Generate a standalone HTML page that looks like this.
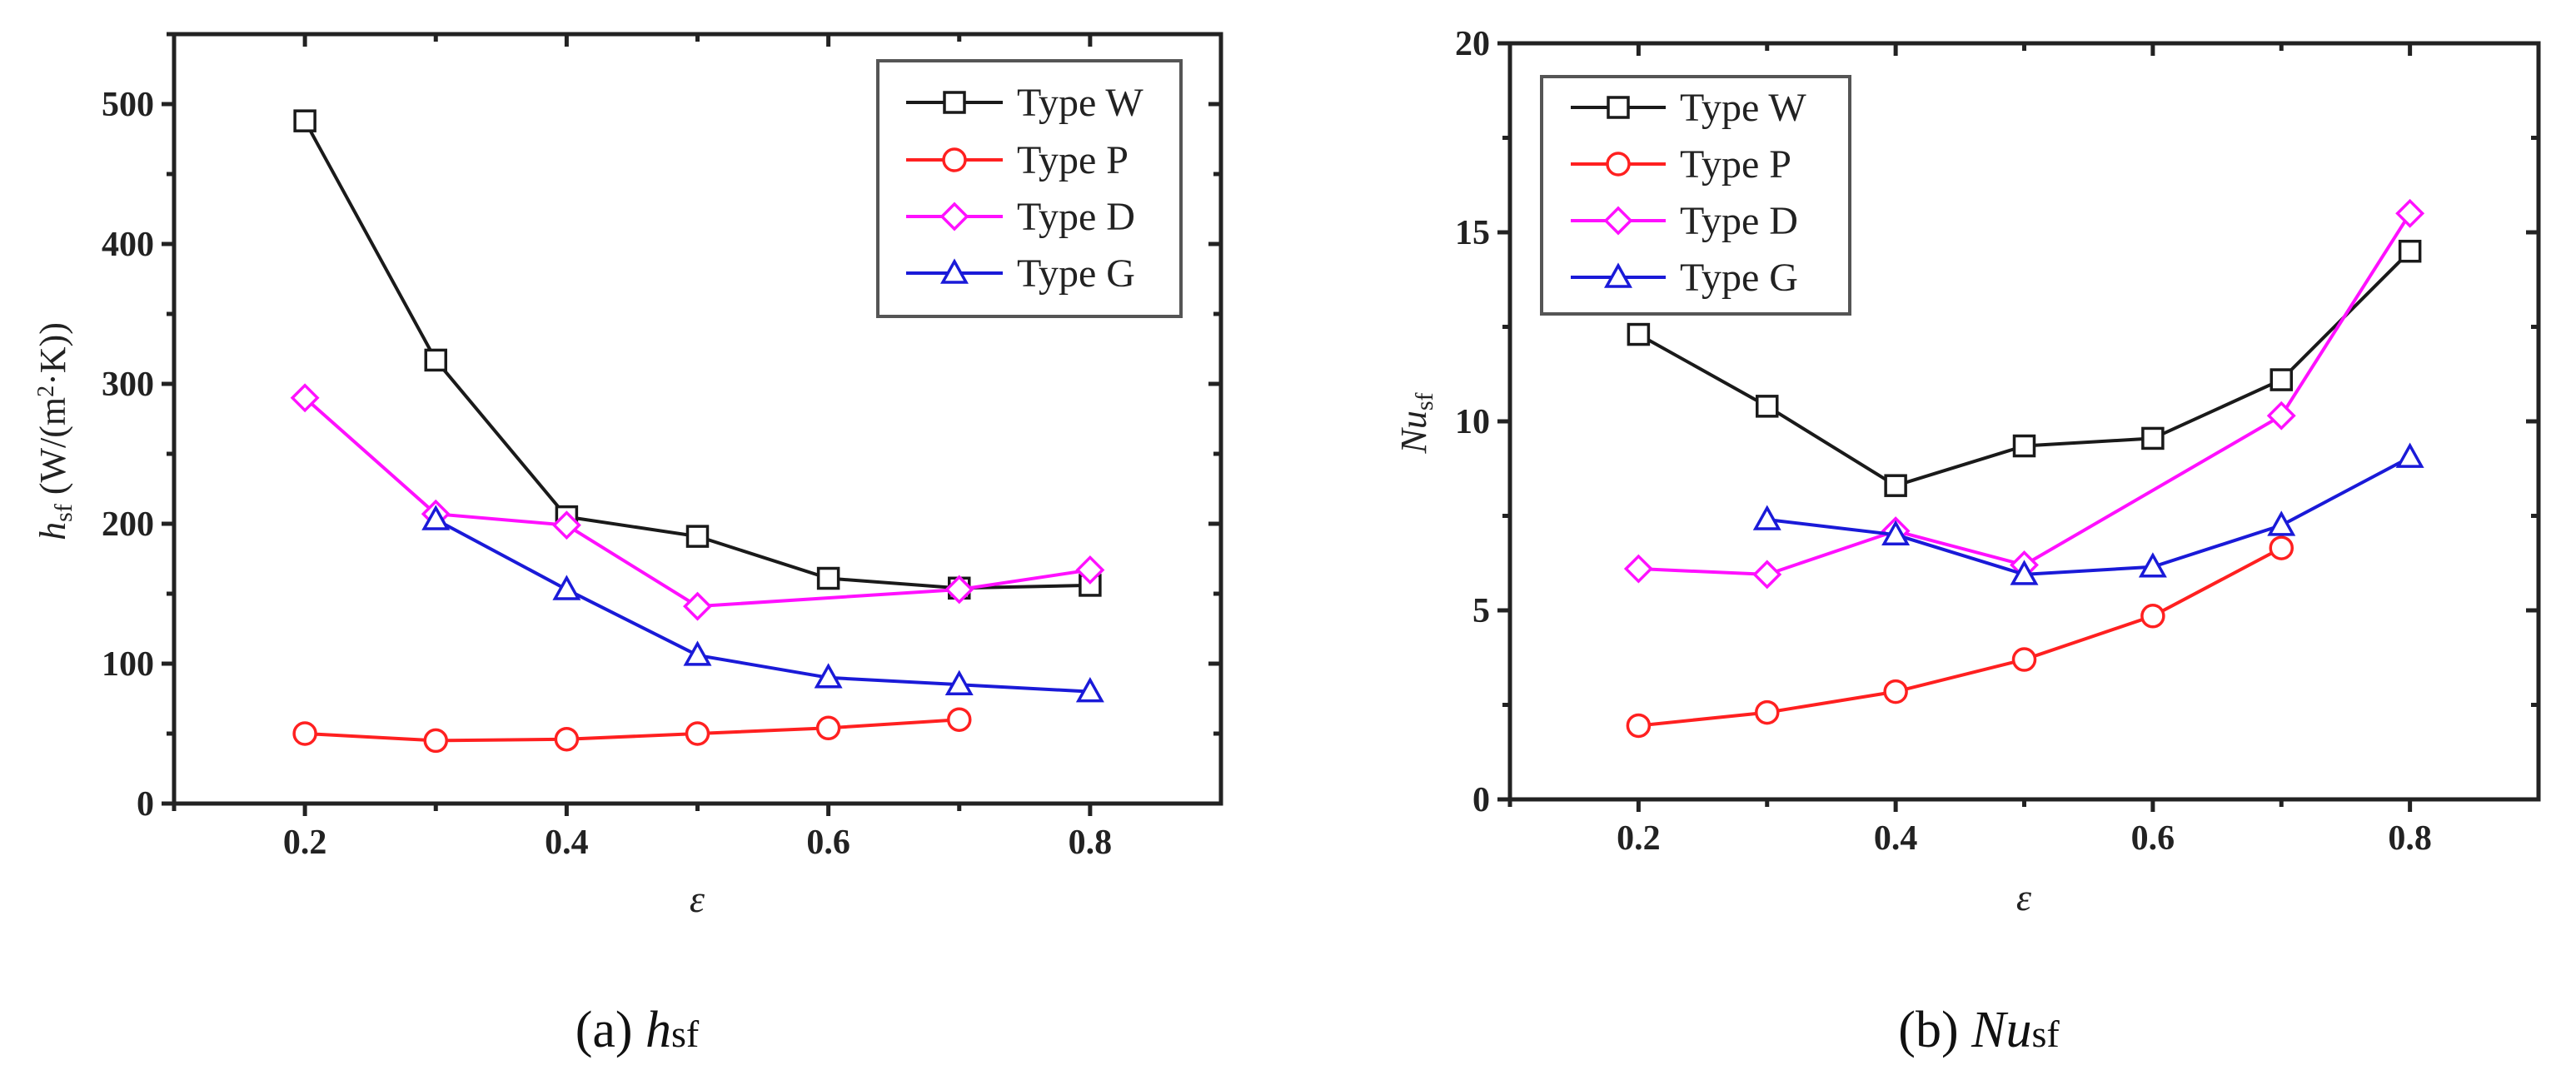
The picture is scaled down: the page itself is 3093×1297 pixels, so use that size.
<!DOCTYPE html>
<html><head><meta charset="utf-8"><style>
html,body{margin:0;padding:0;background:#fff;}
svg{display:block;font-family:"Liberation Serif",serif;}
</style></head><body>
<svg id="fig" width="3093" height="1297" viewBox="0 0 3093 1297" xmlns="http://www.w3.org/2000/svg">
<g id="pa"></g>
<g id="pb"></g>
<text x="765" y="1257" font-size="62" text-anchor="middle" fill="#111">(a) <tspan font-style="italic">h</tspan><tspan font-size="46">sf</tspan></text>
<text x="2376" y="1257" font-size="62" text-anchor="middle" fill="#111">(b) <tspan font-style="italic">Nu</tspan><tspan font-size="46">sf</tspan></text>
</svg>
<script>
const xCats=[0.2,0.3,0.4,0.5,0.6,0.7,0.8];
const seriesNames=["Type W","Type P","Type D","Type G"];
const aW=[488,317,205,191,161,154,156];
const aP=[50,45,46,50,54,60,null];
const aD=[290,207,199,141,null,153,167];
const aG=[null,203,153,106,90,85,80];
const bW=[12.3,10.4,8.3,9.35,9.55,11.1,14.5];
const bP=[1.95,2.3,2.85,3.7,4.85,6.65,null];
const bD=[6.1,5.95,7.1,6.2,null,10.15,15.5];
const bG=[null,7.4,7.0,5.95,6.15,7.25,9.05];
const aYTicks=[0,100,200,300,400,500];
const bYTicks=[0,5,10,15,20];
const xTickLabels=["0.2","0.4","0.6","0.8"];

const NS="http://www.w3.org/2000/svg";
const colors=["#1a1a1a","#ff2020","#ff10ff","#1a1ad8"];
const shapes=["square","circle","diamond","triangle"];
function mk(tag,attrs,parent){const e=document.createElementNS(NS,tag);for(const k in attrs)e.setAttribute(k,attrs[k]);parent.appendChild(e);return e;}
function marker(g,shape,x,y,c){
  const s=12;let e;
  if(shape==="square")e=mk("rect",{x:x-s,y:y-s,width:2*s,height:2*s},g);
  else if(shape==="circle")e=mk("circle",{cx:x,cy:y,r:s+1},g);
  else if(shape==="diamond")e=mk("polygon",{points:`${x},${y-s-3} ${x+s+3},${y} ${x},${y+s+3} ${x-s-3},${y}`},g);
  else e=mk("polygon",{points:`${x},${y-s-2} ${x+s+2},${y+s-1} ${x-s-2},${y+s-1}`},g);
  e.setAttribute("fill","#fff");e.setAttribute("stroke",c);e.setAttribute("stroke-width","3.5");
  
  
  return e;
}
function panel(g,P,data,yTicks,yMinorStep,yMax,leg){
  const sx=v=>P.l+(v-0.1)/0.8*(P.r-P.l);
  const sy=v=>P.b-v/yMax*(P.b-P.t);
  const ax=mk("g",{stroke:"#222","stroke-width":5,fill:"none"},g);
  
  
  mk("rect",{x:P.l,y:P.t,width:P.r-P.l,height:P.b-P.t},ax);
  for(let i=1;i<=8;i++){const v=0.1*i;const x=sx(v);const maj=(i%2===0);const L=maj?15:9;
    mk("line",{x1:x,y1:P.b,x2:x,y2:P.b+L},ax);mk("line",{x1:x,y1:P.t,x2:x,y2:P.t+L},ax);}
  xTickLabels.forEach(t=>{const tx=mk("text",{x:sx(parseFloat(t)),y:P.b+60,"font-size":42,"text-anchor":"middle",fill:"#222","font-weight":"bold"},g);tx.textContent=t;
    
    });
  for(let v=0;v<=yMax+1e-9;v+=yMinorStep){const y=sy(v);const maj=yTicks.some(t=>Math.abs(t-v)<1e-9);const L=maj?15:9;
    mk("line",{x1:P.l-L,y1:y,x2:P.l,y2:y},ax);mk("line",{x1:P.r-L,y1:y,x2:P.r,y2:y},ax);}
  yTicks.forEach(t=>{const tx=mk("text",{x:P.l-24,y:sy(t)+14,"font-size":42,"text-anchor":"end",fill:"#222","font-weight":"bold"},g);tx.textContent=t;
    
    });
  data.forEach((arr,si)=>{
    const sg=mk("g",{},g);
    
    
    const pts=[];arr.forEach((v,i)=>{if(v!==null)pts.push([sx(xCats[i]),sy(v)]);});
    const pl=mk("polyline",{points:pts.map(p=>p.join(",")).join(" "),fill:"none",stroke:colors[si],"stroke-width":4},sg);
    
    
    pts.forEach(p=>marker(sg,shapes[si],p[0],p[1],colors[si]));
  });
  const lg=mk("g",{},g);
  
  
  mk("rect",{x:leg.x0,y:leg.y0,width:leg.x1-leg.x0,height:leg.y1-leg.y0,fill:"#fff",stroke:"#555","stroke-width":4},lg);
  seriesNames.forEach((n,i)=>{const y=leg.ys[i];
    const eg=mk("g",{},lg);
    
    
    mk("line",{x1:leg.lx0,y1:y,x2:leg.lx1,y2:y,stroke:colors[i],"stroke-width":4},eg);
    marker(eg,shapes[i],(leg.lx0+leg.lx1)/2,y,colors[i]);
    const t=mk("text",{x:leg.tx,y:y+16,"font-size":48,fill:"#222"},eg);t.textContent=n;});
}
panel(document.getElementById("pa"),{l:209,r:1466,t:41,b:965},[aW,aP,aD,aG],aYTicks,50,550,
  {x0:1054,x1:1418,y0:73,y1:380,ys:[123,192,260,328],lx0:1088,lx1:1204,tx:1221});
panel(document.getElementById("pb"),{l:1813,r:3048,t:52,b:960},[bW,bP,bD,bG],bYTicks,2.5,20,
  {x0:1851,x1:2221,y0:92,y1:377,ys:[129,197,265,333],lx0:1886,lx1:2000,tx:2017});
const fig=document.getElementById("fig");
const yl=mk("text",{transform:"translate(78,518) rotate(-90)","font-size":44,"text-anchor":"middle",fill:"#222"},fig);
yl.innerHTML='<tspan font-style="italic">h</tspan><tspan font-size="30" dy="8">sf</tspan><tspan dy="-8"> (W/(m</tspan><tspan font-size="28" dy="-14">2</tspan><tspan dy="14">·K))</tspan>';


const yl2=mk("text",{transform:"translate(1712,508) rotate(-90)","font-size":44,"text-anchor":"middle",fill:"#222"},fig);
yl2.innerHTML='<tspan font-style="italic">Nu</tspan><tspan font-size="30" dy="8">sf</tspan>';


const xl=mk("text",{x:837,y:1095,"font-size":46,"font-style":"italic","text-anchor":"middle",fill:"#222"},fig);xl.textContent="ε";


const xl2=mk("text",{x:2430,y:1093,"font-size":46,"font-style":"italic","text-anchor":"middle",fill:"#222"},fig);xl2.textContent="ε";


</script>
</body></html>
